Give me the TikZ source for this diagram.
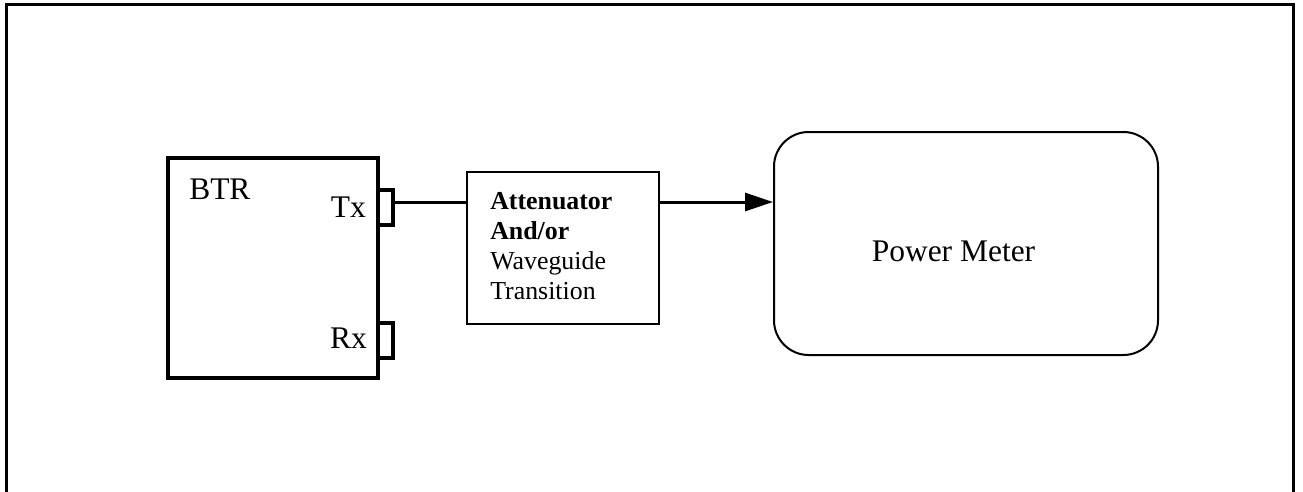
\documentclass[tikz,border=0pt]{standalone}
\usepackage{fontspec}
\setmainfont{Liberation Serif}
\usetikzlibrary{arrows.meta}
\begin{document}
\begin{tikzpicture}[x=0.75pt,y=-0.75pt,
  bigtext/.style={font=\fontsize{23.6pt}{27pt}\selectfont, inner sep=0pt},
  smalltext/.style={font=\fontsize{19.4pt}{22.3pt}\selectfont, inner sep=0pt},
  btrbox/.style={draw, line width=3pt, minimum width=157.5pt, minimum height=165pt, inner sep=0pt},
  portbox/.style={draw, line width=3pt, minimum width=11.25pt, minimum height=26.25pt, inner sep=0pt},
  attbox/.style={draw, line width=1.1pt, minimum width=144pt, minimum height=114pt, inner sep=0pt},
  pmbox/.style={draw, line width=1.5pt, rounded corners=26pt, minimum width=288pt, minimum height=167.25pt, inner sep=0pt},
  wire/.style={line width=2.25pt},
  frame/.style={line width=2.25pt}]
\useasboundingbox (0,0) rectangle (1303,492);
% outer frame (open at the bottom)
\draw[frame] (6.5,500) -- (6.5,5) -- (1293,5) -- (1293,500);
% BTR unit
\node[btrbox] (btr) at (273,268) {};
\node[portbox] (tx) at (385.5,207.5) {};
\node[portbox] (rx) at (385.5,340.5) {};
\node[bigtext, anchor=base west] (btrlabel) at (189,199) {BTR};
\node[bigtext, anchor=base east] (txlabel) at (366,217) {Tx};
\node[bigtext, anchor=base east] (rxlabel) at (367,348) {Rx};
% attenuator
\node[attbox] (att) at (563,248) {};
\node[smalltext, anchor=north west, align=left] (attlabel) at (490,192.5)
  {\textbf{Attenuator}\\\textbf{And/or}\\Waveguide\\Transition};
% power meter
\node[pmbox] (pm) at (966,243.5) {};
\node[bigtext, anchor=base] (pmlabel) at (953.5,261) {Power Meter};
% connectors
\coordinate (txout) at (393,202);
\draw[wire] (txout) -- (txout -| att.west);
\coordinate (attout) at (659,202);
\draw[wire, -{Triangle[length=21pt,width=13.5pt]}] (attout) -- (attout -| pm.west);
\end{tikzpicture}
\end{document}
